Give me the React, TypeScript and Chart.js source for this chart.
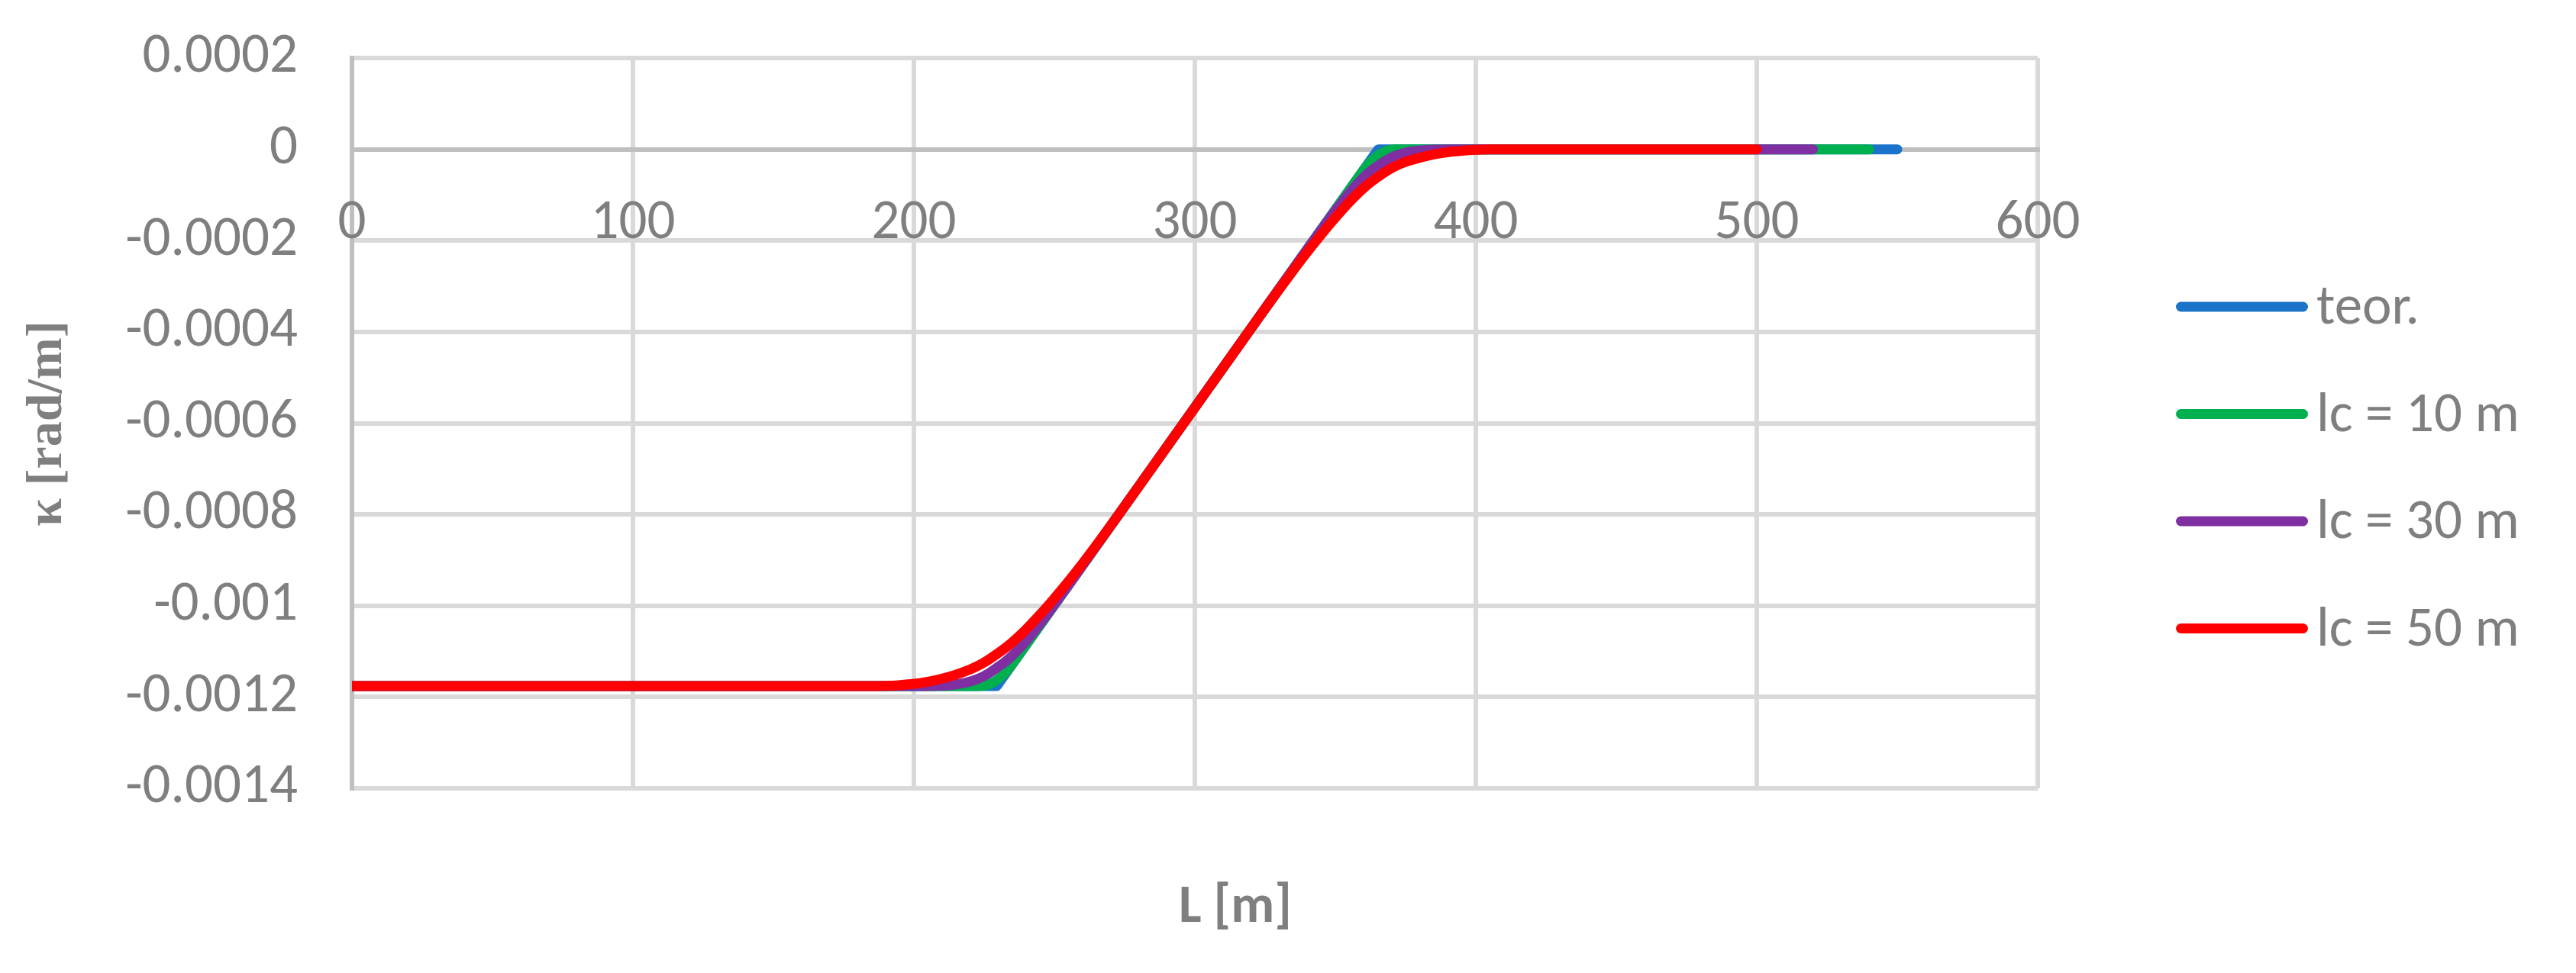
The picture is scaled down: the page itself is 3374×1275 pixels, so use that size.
import React, { useEffect, useRef } from 'react';
import { Chart, registerables } from 'chart.js';

Chart.register(...registerables);

// ---- data ----
const seriesNames = ['teor.', 'lc = 10 m', 'lc = 30 m', 'lc = 50 m'];
const seriesColors = ['#1b74c9', '#00b04f', '#7f2fa2', '#ff0000'];

const teorL = [0, 229.5, 365.3, 550];
const teorK = [-1176e-6, -1176e-6, 0, 0];

const lc10L = [0, 221.5, 223.5, 225.5, 227.5, 229.5, 231.5, 233.5, 235.5, 237.5, 357.3, 359.3, 361.3, 363.3, 365.3, 367.3, 369.3, 371.3, 373.3, 540];
const lc10K = [-1176e-6, -1176e-6, -1175.7e-6, -1174.4e-6, -1170.1e-6, -1163e-6, -1152.8e-6, -1139.8e-6, -1123.7e-6, -1106.7e-6, -69.3e-6, -52.3e-6, -36.2e-6, -23.2e-6, -13e-6, -5.9e-6, -1.6e-6, -0.3e-6, 0, 0];

const lc30L = [0, 204.5, 209.5, 212, 214.5, 217, 219.5, 222, 224.5, 227, 229.5, 232, 234.5, 237, 239.5, 242, 244.5, 247, 249.5, 254.5, 340.3, 345.3, 347.8, 350.3, 352.8, 355.3, 357.8, 360.3, 362.8, 365.3, 367.8, 370.3, 372.8, 375.3, 377.8, 380.3, 382.8, 385.3, 390.3, 520];
const lc30K = [-1176e-6, -1176e-6, -1175.2e-6, -1174.2e-6, -1172.6e-6, -1170.2e-6, -1166.8e-6, -1162e-6, -1155.5e-6, -1146.8e-6, -1136e-6, -1125.2e-6, -1112.2e-6, -1097.1e-6, -1080.2e-6, -1062e-6, -1042.7e-6, -1022.7e-6, -1002e-6, -959.5e-6, -216.5e-6, -173.8e-6, -152.9e-6, -132.4e-6, -112.7e-6, -93.8e-6, -76.2e-6, -60.3e-6, -46.9e-6, -36e-6, -25.2e-6, -17e-6, -11.2e-6, -7.2e-6, -4.4e-6, -2.5e-6, -1.3e-6, -0.6e-6, 0, 0];

const lc50L = [0, 184.5, 189.5, 194.5, 199.5, 204.5, 209.5, 214.5, 219.5, 222, 224.5, 227, 229.5, 232, 234.5, 237, 239.5, 244.5, 249.5, 254.5, 259.5, 264.5, 269.5, 274.5, 320.3, 325.3, 330.3, 335.3, 340.3, 345.3, 350.3, 355.3, 357.8, 360.3, 362.8, 365.3, 367.8, 370.3, 372.8, 375.3, 380.3, 385.3, 390.3, 395.3, 400.3, 405.3, 410.3, 500];
const lc50K = [-1176e-6, -1176e-6, -1175.5e-6, -1174.2e-6, -1171.5e-6, -1167e-6, -1160.5e-6, -1152e-6, -1141e-6, -1134e-6, -1126e-6, -1116.5e-6, -1106e-6, -1094.9e-6, -1082.7e-6, -1069e-6, -1054.4e-6, -1022.1e-6, -987.3e-6, -950.5e-6, -911.7e-6, -871.1e-6, -829.1e-6, -786.3e-6, -389.7e-6, -346.7e-6, -304.3e-6, -262.8e-6, -222.5e-6, -184.2e-6, -147.9e-6, -113.6e-6, -98e-6, -83.8e-6, -71.2e-6, -60e-6, -49.5e-6, -40.5e-6, -33e-6, -27e-6, -18e-6, -11e-6, -6e-6, -3e-6, -1.2e-6, -0.3e-6, 0, 0];

const xTickValues = [0, 100, 200, 300, 400, 500, 600];
const xTickLabels = ['0', '100', '200', '300', '400', '500', '600'];
const yTickValues = [-0.0014, -0.0012, -0.001, -0.0008, -0.0006, -0.0004, -0.0002, 0, 0.0002];
const yTickLabels = ['-0.0014', '-0.0012', '-0.001', '-0.0008', '-0.0006', '-0.0004', '-0.0002', '0', '0.0002'];

const xTitle = 'L [m]';
const yTitle = 'κ [rad/m]';

// ---- styling ----
const W = 3374;
const H = 1275;
const TEXT = '#7f7f7f';
const GRID = '#d9d9d9';
const AXIS = '#bfbfbf';
const SANS = 'Carlito, Calibri, Lato, "Open Sans", sans-serif';
const SERIF = '"Liberation Serif", "Times New Roman", serif';
const FONT_SIZE = 73;

const zip = (xs: number[], ys: number[]) => xs.map((x, i) => ({ x, y: ys[i] }));

const nearestLabel = (vals: number[], labels: string[], v: number) => {
  let best = 0;
  for (let i = 1; i < vals.length; i++) {
    if (Math.abs(vals[i] - v) < Math.abs(vals[best] - v)) best = i;
  }
  return labels[best];
};

const overlay = {
  id: 'overlay',
  afterDraw(chart: any) {
    const ctx = chart.ctx as CanvasRenderingContext2D;
    ctx.save();
    ctx.fillStyle = TEXT;
    // x title
    ctx.font = `bold 70px ${SANS}`;
    ctx.textAlign = 'center';
    ctx.textBaseline = 'alphabetic';
    ctx.fillText(xTitle, 1618, 1208);
    // y title
    ctx.save();
    ctx.translate(80, 555);
    ctx.rotate(-Math.PI / 2);
    ctx.font = `bold 66px ${SERIF}`;
    ctx.textAlign = 'center';
    ctx.textBaseline = 'alphabetic';
    ctx.fillText(yTitle, 0, 0);
    ctx.restore();
    // legend
    const rows = [402, 542.5, 683, 823.5];
    ctx.lineCap = 'round';
    ctx.lineWidth = 13;
    ctx.font = `${FONT_SIZE}px ${SANS}`;
    ctx.textAlign = 'left';
    seriesNames.forEach((name, i) => {
      const y = rows[i];
      ctx.strokeStyle = seriesColors[i];
      ctx.beginPath();
      ctx.moveTo(2856.5, y);
      ctx.lineTo(3016.5, y);
      ctx.stroke();
      ctx.fillStyle = TEXT;
      ctx.fillText(name, 3034, y + 22);
    });
    ctx.restore();
  },
};

export default function App() {
  const ref = useRef<HTMLCanvasElement>(null);

  useEffect(() => {
    const canvas = ref.current;
    if (!canvas) return;
    const series = [
      zip(teorL, teorK),
      zip(lc10L, lc10K),
      zip(lc30L, lc30K),
      zip(lc50L, lc50K),
    ];
    // draw order: red on top (dataset 0 drawn last)
    const datasets = [3, 2, 1, 0].map((i) => ({
      label: seriesNames[i],
      data: series[i],
      showLine: true,
      borderColor: seriesColors[i],
      backgroundColor: seriesColors[i],
      borderWidth: 13,
      pointRadius: 0,
      pointHoverRadius: 0,
      borderCapStyle: 'round' as const,
      borderJoinStyle: 'round' as const,
      cubicInterpolationMode: (i === 0 ? 'default' : 'monotone') as any,
      tension: 0,
      fill: false,
    }));

    const chart = new Chart(canvas, {
      type: 'scatter',
      data: { datasets },
      options: {
        responsive: false,
        animation: false,
        devicePixelRatio: 1,
        layout: { padding: { left: 0, right: W - 2669, top: 76, bottom: H - 1033 } },
        plugins: {
          legend: { display: false },
          tooltip: { enabled: false },
          title: { display: false },
        },
        scales: {
          x: {
            type: 'linear',
            position: { y: 0 } as any,
            min: 0,
            max: 600,
            afterBuildTicks: (s: any) => {
              s.ticks = xTickValues.map((v) => ({ value: v }));
            },
            afterFit: (s: any) => {
              s.paddingLeft = 0;
              s.paddingRight = 0;
            },
            ticks: {
              color: TEXT,
              font: { family: SANS, size: FONT_SIZE },
              padding: 54,
              maxRotation: 0,
              autoSkip: false,
              z: 1,
              callback: (v: any) => nearestLabel(xTickValues, xTickLabels, Number(v)),
            },
            grid: { color: GRID, lineWidth: 6, drawTicks: false },
            border: { display: true, color: AXIS, width: 6 },
          },
          y: {
            type: 'linear',
            min: -0.0014,
            max: 0.0002,
            afterBuildTicks: (s: any) => {
              s.ticks = yTickValues.map((v) => ({ value: v }));
            },
            afterFit: (s: any) => {
              s.width = 461;
              s.paddingTop = 0;
              s.paddingBottom = 0;
            },
            ticks: {
              color: TEXT,
              font: { family: SANS, size: FONT_SIZE },
              padding: 71,
              autoSkip: false,
              callback: (v: any) => nearestLabel(yTickValues, yTickLabels, Number(v)),
            },
            grid: { color: GRID, lineWidth: 6, drawTicks: false },
            border: { display: true, color: AXIS, width: 6 },
          },
        },
      },
      plugins: [overlay],
    });
    return () => chart.destroy();
  }, []);

  return (
    <div style={{ position: 'fixed', left: 0, top: 0, width: W, height: H, background: '#ffffff' }}>
      <canvas ref={ref} width={W} height={H} style={{ width: W, height: H, display: 'block' }} />
    </div>
  );
}
